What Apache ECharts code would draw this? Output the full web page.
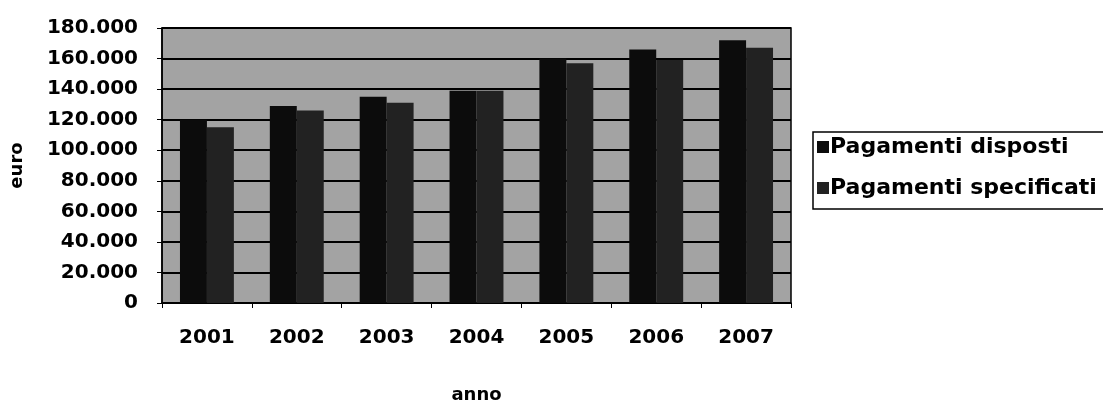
<!DOCTYPE html>
<html>
<head>
<meta charset="utf-8">
<script src="https://cdn.jsdelivr.net/npm/echarts@6/dist/echarts.min.js"></script>
<style>
  html, body { margin: 0; padding: 0; background: #ffffff; }
  #chart { width: 1103px; height: 409px; }
</style>
</head>
<body>
<div id="chart"></div>
<script>
// Annual payments, in euro
const years = ['2001', '2002', '2003', '2004', '2005', '2006', '2007'];
const pagamentiDisposti = [120000, 129000, 135000, 139000, 160000, 166000, 172000];
const pagamentiSpecificati = [115000, 126000, 131000, 139000, 157000, 159000, 167000];
const seriesNames = ['Pagamenti disposti', 'Pagamenti specificati'];

const FONT = '"DejaVu Sans", "Liberation Sans", Arial, sans-serif';

// thousands separator with a dot, e.g. 180.000
function fmt(v) {
  return String(v).replace(/\B(?=(\d{3})+(?!\d))/g, '.');
}

const chart = echarts.init(document.getElementById('chart'), null, { renderer: 'canvas' });

chart.setOption({
  animation: false,
  backgroundColor: '#ffffff',
  grid: {
    left: 162, right: 312, top: 28, bottom: 95,
    show: true,
    backgroundColor: '#a3a3a3',
    borderColor: '#000000',
    borderWidth: 1.5
  },
  legend: {
    orient: 'vertical',
    left: 813,
    top: 132,
    padding: [4, 40, 10, 4],
    itemGap: 19,
    itemWidth: 12,
    itemHeight: 12,
    borderColor: '#000000',
    borderWidth: 1.5,
    backgroundColor: '#ffffff',
    icon: 'rect',
    textStyle: { fontFamily: FONT, fontWeight: 'bold', fontSize: 22, color: '#000000', padding: [0, 0, 0, -4] },
    data: seriesNames
  },
  xAxis: {
    type: 'category',
    data: years,
    name: 'anno',
    nameLocation: 'middle',
    nameGap: 83,
    nameTextStyle: { fontFamily: FONT, fontWeight: 'bold', fontSize: 18, color: '#000000' },
    axisLine: { lineStyle: { color: '#000000', width: 1.5 } },
    axisTick: { show: true, length: 5, lineStyle: { color: '#000000' } },
    axisLabel: { fontFamily: FONT, fontWeight: 'bold', fontSize: 20, color: '#000000', margin: 25 },
    splitLine: { show: false }
  },
  yAxis: {
    type: 'value',
    min: 0,
    max: 180000,
    interval: 20000,
    name: 'euro',
    nameLocation: 'middle',
    nameRotate: 90,
    nameGap: 136,
    nameTextStyle: { fontFamily: FONT, fontWeight: 'bold', fontSize: 18, color: '#000000' },
    axisLine: { show: true, lineStyle: { color: '#000000', width: 1.5 } },
    axisTick: { show: true, length: 5, lineStyle: { color: '#000000' } },
    axisLabel: {
      fontFamily: FONT, fontWeight: 'bold', fontSize: 20, color: '#000000', margin: 24,
      formatter: fmt
    },
    splitLine: { show: true, lineStyle: { color: '#000000', width: 2 } }
  },
  series: [
    {
      name: seriesNames[0],
      type: 'bar',
      data: pagamentiDisposti,
      barWidth: '30%',
      barGap: '0%',
      itemStyle: { color: '#0c0c0c' }
    },
    {
      name: seriesNames[1],
      type: 'bar',
      data: pagamentiSpecificati,
      barWidth: '30%',
      barGap: '0%',
      itemStyle: { color: '#222222' }
    }
  ]
});
</script>
</body>
</html>
